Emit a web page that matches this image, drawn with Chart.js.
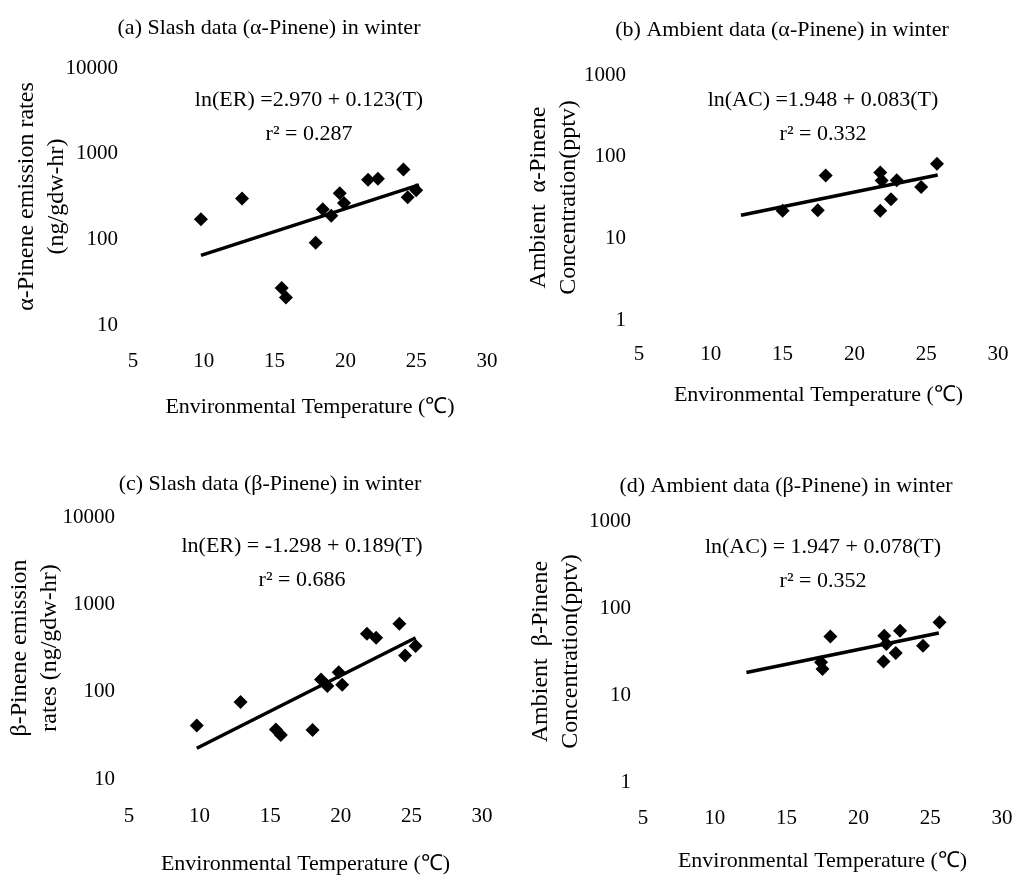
<!DOCTYPE html>
<html lang="en">
<head>
    <meta charset="UTF-8">
    <title>Winter pinene emissions vs temperature</title>
    <script src="https://cdn.jsdelivr.net/npm/chart.js"></script>
    <style>
        body {
            margin: 0;
            background: #fff;
            overflow: hidden;
        }
        .panel {
            position: absolute;
            width: 506px;
            height: 439px;
        }
    </style>
</head>
<body>
    <canvas id="chartA" class="panel" width="506" height="439" style="left:0;top:0"></canvas>
    <canvas id="chartB" class="panel" width="506" height="439" style="left:506px;top:0"></canvas>
    <canvas id="chartC" class="panel" width="506" height="439" style="left:0;top:439px"></canvas>
    <canvas id="chartD" class="panel" width="506" height="439" style="left:506px;top:439px"></canvas>

    <script>
        // tick values
        const tempTicks = [5, 10, 15, 20, 25, 30];
        const slashTicks = [10, 100, 1000, 10000];
        const ambientTicks = [1, 10, 100, 1000];

        // (a) slash alpha-pinene
        const slashAlphaTemp = [9.8, 12.7, 15.5, 15.8, 17.9, 18.4, 19.0, 19.6, 19.9, 21.6, 22.3, 24.1, 24.4, 25.0];
        const slashAlphaER = [172, 300, 27, 21, 91, 225, 188, 345, 265, 495, 510, 655, 310, 375];
        const slashAlphaFitT = [9.8, 25.2];
        const slashAlphaFitER = [65.1, 432.6];

        // (b) ambient alpha-pinene
        const ambAlphaTemp = [15.0, 17.45, 18.0, 21.8, 21.9, 21.8, 22.55, 22.95, 24.65, 25.75];
        const ambAlphaAC = [21.7, 22.1, 59, 64, 51, 21.7, 30, 51.5, 42.6, 82];
        const ambAlphaFitT = [12.1, 25.8];
        const ambAlphaFitAC = [19.15, 59.7];

        // (c) slash beta-pinene
        const slashBetaTemp = [9.8, 12.9, 15.4, 15.75, 18.0, 18.6, 19.05, 19.85, 20.1, 21.85, 22.5, 24.15, 24.55, 25.3];
        const slashBetaER = [41, 76, 37, 32, 36.5, 138, 116, 167, 120, 460, 414, 600, 259, 333];
        const slashBetaFitT = [9.8, 25.3];
        const slashBetaFitER = [22.5, 414];

        // (d) ambient beta-pinene
        const ambBetaTemp = [17.4, 17.5, 18.05, 21.8, 21.75, 21.95, 22.6, 22.9, 24.5, 25.65];
        const ambBetaAC = [23.8, 19.9, 47, 48, 24.2, 38.5, 30.4, 54.8, 36.9, 68.4];
        const ambBetaFitT = [12.2, 25.6];
        const ambBetaFitAC = [18.15, 51.6];

        const serif = '"Liberation Serif", "Times New Roman", serif';
        const ink = '#000';

        // heading above each panel and the regression text inside it
        const panelText = {
            id: 'panelText',
            afterDraw(chart, args, opts) {
                const ctx = chart.ctx;
                ctx.save();
                ctx.fillStyle = ink;
                ctx.textAlign = 'center';
                ctx.textBaseline = 'middle';
                ctx.font = '22px ' + serif;
                ctx.fillText(opts.heading, opts.headingAt[0], opts.headingAt[1]);
                opts.lines.forEach((line, i) => {
                    ctx.fillText(line, opts.linesAt[0], opts.linesAt[1] + i * opts.lineGap);
                });
                ctx.restore();
            }
        };

        const toPoints = (xs, ys) => xs.map((x, i) => ({ x: x, y: ys[i] }));

        const createPanel = (canvasId, p) => {
            new Chart(document.getElementById(canvasId), {
                type: 'scatter',
                data: {
                    datasets: [{
                        data: toPoints(p.temps, p.values),
                        pointStyle: 'rectRot',
                        pointRadius: 7,
                        backgroundColor: ink,
                        borderColor: ink,
                        borderWidth: 0
                    }, {
                        data: toPoints(p.fitT, p.fitV),
                        showLine: true,
                        pointRadius: 0,
                        borderColor: ink,
                        borderWidth: 3.5
                    }]
                },
                options: {
                    responsive: false,
                    animation: false,
                    layout: {
                        padding: { left: 0, right: 506 - p.area[1], top: p.area[2], bottom: 0 }
                    },
                    plugins: {
                        legend: { display: false },
                        tooltip: { enabled: false },
                        panelText: {
                            heading: p.heading,
                            headingAt: p.headingAt,
                            lines: p.lines,
                            linesAt: p.linesAt,
                            lineGap: 34
                        }
                    },
                    scales: {
                        x: {
                            type: 'linear',
                            min: 5,
                            max: 30,
                            afterBuildTicks: s => { s.ticks = tempTicks.map(v => ({ value: v })); },
                            afterFit: s => {
                                s.height = 439 - p.area[3];
                                s.paddingLeft = 0;
                                s.paddingRight = 0;
                            },
                            grid: { display: false, drawTicks: false },
                            border: { display: false },
                            ticks: {
                                padding: p.xTickPad,
                                color: ink,
                                maxRotation: 0,
                                font: { family: serif, size: 21 }
                            },
                            title: {
                                display: true,
                                text: 'Environmental Temperature (\u2103)',
                                color: ink,
                                padding: { top: 0, bottom: p.xTitlePad },
                                font: { family: serif, size: 22 }
                            }
                        },
                        y: {
                            type: 'logarithmic',
                            min: p.yTicks[0],
                            max: p.yTicks[p.yTicks.length - 1],
                            afterBuildTicks: s => { s.ticks = p.yTicks.map(v => ({ value: v })); },
                            afterFit: s => {
                                s.width = p.area[0];
                                s.paddingTop = 0;
                                s.paddingBottom = 0;
                            },
                            grid: { display: false, drawTicks: false },
                            border: { display: false },
                            ticks: {
                                padding: p.yTickPad,
                                color: ink,
                                font: { family: serif, size: 21 },
                                callback: v => String(v)
                            },
                            title: {
                                display: true,
                                text: p.yTitle,
                                color: ink,
                                padding: { top: p.yTitlePad, bottom: 0 },
                                font: { family: serif, size: 24, lineHeight: 1.25 }
                            }
                        }
                    }
                },
                plugins: [panelText]
            });
        };

        // area = [left, right, top, bottom] of the plot inside each canvas
        createPanel('chartA', {
            temps: slashAlphaTemp, values: slashAlphaER,
            fitT: slashAlphaFitT, fitV: slashAlphaFitER,
            yTicks: slashTicks,
            area: [133, 487, 68, 325],
            xTickPad: 24, xTitlePad: 19, yTickPad: 15, yTitlePad: 12,
            yTitle: ['\u03b1-Pinene emission rates', '(ng/gdw-hr)'],
            heading: '(a) Slash data (\u03b1-Pinene) in winter', headingAt: [269, 28],
            lines: ['ln(ER) =2.970 + 0.123(T)', 'r\u00b2 = 0.287'], linesAt: [309, 100]
        });

        createPanel('chartB', {
            temps: ambAlphaTemp, values: ambAlphaAC,
            fitT: ambAlphaFitT, fitV: ambAlphaFitAC,
            yTicks: ambientTicks,
            area: [133, 492, 75, 320],
            xTickPad: 22, xTitlePad: 31, yTickPad: 13, yTitlePad: 18,
            yTitle: ['Ambient  \u03b1-Pinene', 'Concentration(pptv)'],
            heading: '(b) Ambient data (\u03b1-Pinene) in winter', headingAt: [276, 30],
            lines: ['ln(AC) =1.948 + 0.083(T)', 'r\u00b2 = 0.332'], linesAt: [317, 100]
        });

        createPanel('chartC', {
            temps: slashBetaTemp, values: slashBetaER,
            fitT: slashBetaFitT, fitV: slashBetaFitER,
            yTicks: slashTicks,
            area: [129, 482, 78, 340],
            xTickPad: 25, xTitlePad: 1, yTickPad: 14, yTitlePad: 5,
            yTitle: ['\u03b2-Pinene emission', 'rates (ng/gdw-hr)'],
            heading: '(c) Slash data (\u03b2-Pinene) in winter', headingAt: [270, 45],
            lines: ['ln(ER) = -1.298 + 0.189(T)', 'r\u00b2 = 0.686'], linesAt: [302, 107]
        });

        createPanel('chartD', {
            temps: ambBetaTemp, values: ambBetaAC,
            fitT: ambBetaFitT, fitV: ambBetaFitAC,
            yTicks: ambientTicks,
            area: [137, 496, 82, 343],
            xTickPad: 24, xTitlePad: 4, yTickPad: 12, yTitlePad: 20,
            yTitle: ['Ambient  \u03b2-Pinene', 'Concentration(pptv)'],
            heading: '(d) Ambient data (\u03b2-Pinene) in winter', headingAt: [280, 47],
            lines: ['ln(AC) = 1.947 + 0.078(T)', 'r\u00b2 = 0.352'], linesAt: [317, 108]
        });
    </script>
</body>
</html>
